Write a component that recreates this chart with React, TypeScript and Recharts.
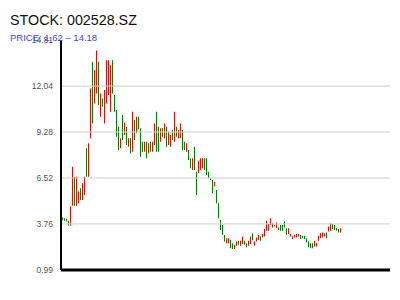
import { ComposedChart, Bar, XAxis, YAxis, ReferenceLine, Cell } from 'recharts';

// daily open / close
const opens = [
  4.15, 4.1, 4.05, 3.95, 3.65, 4.85, 6.6, 4.85, 5.0, 5.9,
  5.2, 5.5, 8.3, 6.6, 8.9, 13.5, 11.0, 11.6, 13.5, 10.2,
  11.3, 9.8, 11.0, 11.5, 10.5, 13.6, 11.5, 10.6, 9.6, 8.3,
  10.3, 9.1, 9.6, 8.4, 8.9, 8.1, 10.0, 9.2, 10.2, 9.5,
  8.7, 8.1, 8.7, 8.0, 8.7, 8.1, 8.5, 10.5, 9.6, 8.7,
  9.5, 8.9, 9.6, 8.5, 8.4, 9.4, 8.7, 9.6, 8.9, 8.9,
  9.4, 8.7, 8.1, 8.2, 7.7, 7.0, 8.4, 6.9, 6.8, 7.0,
  7.1, 7.7, 7.7, 6.9, 6.5, 6.4, 6.0, 5.8, 5.0, 4.0,
  3.7, 3.1, 2.6, 2.6, 2.79, 2.6, 2.25, 2.45, 2.75, 2.45,
  2.55, 2.75, 2.6, 2.45, 2.55, 3.2, 2.45, 2.7, 2.8, 3.0,
  2.95, 3.0, 3.35, 3.35, 3.7, 3.55, 3.7, 3.5, 3.55, 3.7,
  3.7, 3.9, 3.5, 3.15, 3.0, 2.85, 2.95, 2.95, 3.0, 3.1,
  3.05, 3.05, 2.9, 2.7, 2.6, 2.6, 2.4, 2.4, 2.75, 2.9,
  2.95, 3.0, 3.25, 3.3, 3.35, 3.75, 3.7, 3.5, 3.45, 3.25,
];
const closes = [
  4.0, 3.95, 3.9, 3.65, 4.8, 7.2, 4.85, 6.6, 5.7, 5.2,
  6.2, 6.6, 6.6, 8.6, 11.9, 9.8, 13.0, 14.18, 10.9, 11.6,
  10.8, 11.8, 13.6, 13.6, 13.3, 11.6, 10.5, 9.0, 8.2, 8.9,
  8.8, 9.85, 8.5, 8.9, 8.0, 10.5, 8.8, 10.2, 9.45, 7.8,
  8.1, 8.7, 7.7, 8.6, 8.1, 8.7, 9.8, 8.1, 8.1, 9.5,
  9.0, 9.8, 8.4, 9.3, 9.1, 8.8, 10.5, 9.0, 9.4, 9.8,
  8.2, 8.2, 8.6, 7.6, 7.1, 7.7, 7.0, 5.5, 7.55, 7.7,
  7.7, 7.0, 6.7, 6.5, 6.4, 5.6, 6.3, 5.0, 4.1, 3.4,
  3.1, 2.7, 2.9, 2.9, 2.3, 2.25, 2.5, 2.7, 2.5, 2.75,
  3.0, 2.5, 2.35, 2.75, 3.0, 2.8, 2.7, 2.95, 3.1, 2.75,
  3.15, 3.45, 3.95, 3.75, 4.1, 3.8, 3.6, 3.85, 3.4, 3.35,
  3.35, 3.55, 3.1, 3.5, 3.15, 3.0, 3.1, 3.15, 3.15, 2.85,
  2.9, 2.85, 2.65, 2.35, 2.3, 2.3, 2.75, 2.6, 3.05, 3.2,
  3.25, 3.2, 2.9, 3.6, 3.8, 3.45, 3.4, 3.35, 3.25, 3.5,
];
const priceTicks = [0.99, 3.76, 6.52, 9.28, 12.04, 14.81];
const gridTicks = [3.76, 6.52, 9.28, 12.04];

const UP = '#ff0000';
const DOWN = '#008000';

const data = opens.map((open, i) => ({
  day: i + 1,
  open,
  close: closes[i],
  body: [Math.min(open, closes[i]), Math.max(open, closes[i])],
}));

const font = '"Liberation Sans", Arial, Helvetica, sans-serif';

export default function App() {
  return (
    <div style={{ position: 'absolute', left: 0, top: 0, width: 400, height: 300, background: '#fff', fontFamily: font }}>
      <svg width={400} height={45} style={{ position: 'absolute', left: 0, top: 0, zIndex: 1, pointerEvents: 'none' }}>
        <text x={10} y={25} fontSize={14.3} fill="#111">STOCK: 002528.SZ</text>
        <text x={10} y={41} fontSize={9.5} fill="#3f3fff">PRICE: 1.62 – 14.18</text>
      </svg>
      <ComposedChart
        width={400}
        height={300}
        data={data}
        margin={{ top: 40, right: 10, bottom: 0, left: 0 }}
      >
        <XAxis
          dataKey="day"
          tick={false}
          tickLine={false}
          height={30}
          padding={{ left: 0, right: 49 }}
          axisLine={{ stroke: '#000', strokeWidth: 3 }}
        />
        <YAxis
          type="number"
          domain={[0.99, 14.81]}
          ticks={priceTicks}
          width={61}
          tickLine={false}
          axisLine={{ stroke: '#000', strokeWidth: 2 }}
          tick={{ fill: '#555', fontSize: 8.5, fontFamily: font }}
          tickFormatter={(v: number) => v.toFixed(2)}
          interval={0}
        />
        {gridTicks.map((t) => (
          <ReferenceLine key={t} y={t} stroke="#ccc" strokeWidth={1} />
        ))}
        <Bar dataKey="body" barSize={1} isAnimationActive={false}>
          {data.map((d) => (
            <Cell key={d.day} fill={d.close >= d.open ? UP : DOWN} />
          ))}
        </Bar>
      </ComposedChart>
    </div>
  );
}
